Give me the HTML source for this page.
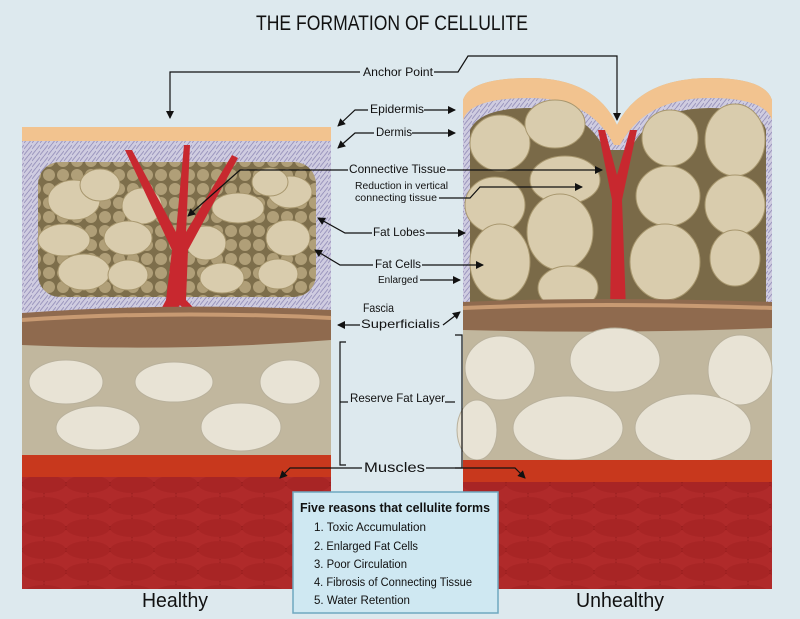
<!DOCTYPE html>
<html><head><meta charset="utf-8"><style>
html,body{margin:0;padding:0;background:#dde9ee;}
svg{display:block;font-family:"Liberation Sans",sans-serif;}
</style></head><body>
<svg width="800" height="619" viewBox="0 0 800 619" xmlns="http://www.w3.org/2000/svg">
<defs>
<marker id="a" markerWidth="8" markerHeight="8" refX="7" refY="4" orient="auto" markerUnits="userSpaceOnUse"><path d="M0,0 L8,4 L0,8z" fill="#111"/></marker>
<pattern id="mus" width="44" height="22" patternUnits="userSpaceOnUse"><rect width="44" height="22" fill="#8a1818"/><ellipse cx="22" cy="11" rx="22" ry="9" fill="#b02a2a"/><ellipse cx="0" cy="0" rx="22" ry="9" fill="#a82525"/><ellipse cx="44" cy="0" rx="22" ry="9" fill="#a82525"/><ellipse cx="0" cy="22" rx="22" ry="9" fill="#a82525"/><ellipse cx="44" cy="22" rx="22" ry="9" fill="#a82525"/></pattern>
<pattern id="der" width="8" height="6" patternUnits="userSpaceOnUse"><rect width="8" height="6" fill="#cfcce0"/><path d="M0,5 L4,0 M4,6 L8,1" stroke="#9a95bd" stroke-width="1"/></pattern>
<pattern id="small" width="14" height="14" patternUnits="userSpaceOnUse"><rect width="14" height="14" fill="#7d6e4b"/><circle cx="7" cy="7" r="6" fill="#b09f78"/></pattern>
</defs>
<rect width="800" height="619" fill="#dde9ee"/>
<text x="256" y="30" font-size="21" fill="#111" textLength="272" lengthAdjust="spacingAndGlyphs">THE FORMATION OF CELLULITE</text>

<!-- LEFT PANEL -->
<rect x="22" y="127" width="309" height="462" fill="#c1b79e"/>
<rect x="22" y="127" width="309" height="14" fill="#f2c38f"/>
<rect x="22" y="141" width="309" height="172" fill="url(#der)"/>
<rect x="38" y="162" width="278" height="135" rx="22" fill="url(#small)"/>
<g fill="#d9ccad" stroke="#a8976e" stroke-width="1">
<ellipse cx="74" cy="200" rx="26" ry="20"/><ellipse cx="100" cy="185" rx="20" ry="16"/><ellipse cx="142" cy="206" rx="20" ry="18"/>
<ellipse cx="64" cy="240" rx="26" ry="16"/><ellipse cx="128" cy="238" rx="24" ry="17"/><ellipse cx="84" cy="272" rx="26" ry="18"/><ellipse cx="128" cy="275" rx="20" ry="15"/>
<ellipse cx="238" cy="208" rx="26" ry="15"/><ellipse cx="290" cy="192" rx="22" ry="16"/><ellipse cx="206" cy="243" rx="20" ry="17"/><ellipse cx="288" cy="238" rx="22" ry="18"/><ellipse cx="222" cy="278" rx="22" ry="15"/><ellipse cx="278" cy="274" rx="20" ry="15"/><ellipse cx="270" cy="182" rx="18" ry="14"/>
</g>
<path d="M166,300 L172,250 L125,150 L132,150 L176,232 L184,145 L190,145 L186,232 L232,155 L238,158 L188,250 L186,300 L215,330 L205,332 L180,305 L160,332 L150,330z" fill="#c8282f"/>
<path d="M22,313 Q170,302 331,310 L331,340 Q180,352 22,345z" fill="#8f6a4e"/>
<path d="M22,320 Q170,310 331,318" stroke="#c89a72" stroke-width="4" fill="none"/>
<g fill="#e8e3d5" stroke="#b9b19c" stroke-width="1">
<ellipse cx="66" cy="382" rx="37" ry="22"/><ellipse cx="174" cy="382" rx="39" ry="20"/><ellipse cx="290" cy="382" rx="30" ry="22"/>
<ellipse cx="98" cy="428" rx="42" ry="22"/><ellipse cx="241" cy="427" rx="40" ry="24"/>
</g>
<rect x="22" y="455" width="309" height="22" fill="#c8381d"/>
<rect x="22" y="477" width="309" height="112" fill="url(#mus)"/>

<!-- RIGHT PANEL -->
<path d="M463,100 Q470,78 530,78 Q595,78 617,125 Q640,78 710,78 Q765,78 772,100 L772,589 L463,589z" fill="#c1b79e"/>
<path d="M463,100 Q470,78 530,78 Q595,78 617,125 Q640,78 710,78 Q765,78 772,100 L772,120 Q765,98 710,98 Q645,98 620,145 L614,145 Q590,98 530,98 Q470,98 463,120z" fill="#f2c38f"/>
<path d="M463,120 Q470,98 530,98 Q590,98 614,145 L620,145 Q645,98 710,98 Q765,98 772,120 L772,310 L463,310z" fill="url(#der)"/>
<path d="M470,130 Q480,108 530,108 Q585,108 605,150 L630,150 Q650,108 710,108 Q760,108 766,130 L766,302 L470,302z" fill="#7a6a48"/>
<g fill="#d9ccad" stroke="#a8976e" stroke-width="1">
<ellipse cx="500" cy="143" rx="30" ry="28"/><ellipse cx="555" cy="124" rx="30" ry="24"/><ellipse cx="565" cy="180" rx="35" ry="24"/>
<ellipse cx="495" cy="205" rx="30" ry="28"/><ellipse cx="560" cy="232" rx="33" ry="38"/><ellipse cx="500" cy="262" rx="30" ry="38"/><ellipse cx="568" cy="288" rx="30" ry="22"/>
<ellipse cx="670" cy="138" rx="28" ry="28"/><ellipse cx="735" cy="140" rx="30" ry="36"/><ellipse cx="668" cy="196" rx="32" ry="30"/><ellipse cx="735" cy="205" rx="30" ry="30"/>
<ellipse cx="665" cy="262" rx="35" ry="38"/><ellipse cx="735" cy="258" rx="25" ry="28"/>
</g>
<path d="M610,310 L612,200 L598,130 L605,130 L617,175 L630,130 L637,130 L622,200 L626,310z" fill="#c8282f"/>
<path d="M463,302 Q600,296 772,302 L772,328 Q620,334 463,330z" fill="#8f6a4e"/>
<path d="M463,308 Q600,302 772,308" stroke="#c89a72" stroke-width="4" fill="none"/>
<g fill="#e8e3d5" stroke="#b9b19c" stroke-width="1">
<ellipse cx="500" cy="368" rx="35" ry="32"/><ellipse cx="615" cy="360" rx="45" ry="32"/><ellipse cx="740" cy="370" rx="32" ry="35"/>
<ellipse cx="477" cy="430" rx="20" ry="30"/><ellipse cx="568" cy="428" rx="55" ry="32"/><ellipse cx="693" cy="428" rx="58" ry="34"/>
</g>
<rect x="463" y="460" width="309" height="22" fill="#c8381d"/>
<rect x="463" y="482" width="309" height="107" fill="url(#mus)"/>

<!-- LABELS -->
<g font-size="12" fill="#111" lengthAdjust="spacingAndGlyphs">
<text x="363" y="76" textLength="70" lengthAdjust="spacingAndGlyphs">Anchor Point</text>
<text x="370" y="113" textLength="54" lengthAdjust="spacingAndGlyphs">Epidermis</text>
<text x="376" y="136" textLength="36" lengthAdjust="spacingAndGlyphs">Dermis</text>
<text x="349" y="173" textLength="97" lengthAdjust="spacingAndGlyphs">Connective Tissue</text>
<text x="355" y="189" font-size="10" textLength="93" lengthAdjust="spacingAndGlyphs">Reduction in vertical</text>
<text x="355" y="201" font-size="10" textLength="82" lengthAdjust="spacingAndGlyphs">connecting tissue</text>
<text x="373" y="236" textLength="52" lengthAdjust="spacingAndGlyphs">Fat Lobes</text>
<text x="375" y="268" textLength="46" lengthAdjust="spacingAndGlyphs">Fat Cells</text>
<text x="378" y="283" font-size="10" textLength="40" lengthAdjust="spacingAndGlyphs">Enlarged</text>
<text x="363" y="312" textLength="31" lengthAdjust="spacingAndGlyphs">Fascia</text>
<text x="361" y="328" textLength="79" lengthAdjust="spacingAndGlyphs">Superficialis</text>
<text x="350" y="402" textLength="95" lengthAdjust="spacingAndGlyphs">Reserve Fat Layer</text>
<text x="364" y="472" font-size="14" textLength="61" lengthAdjust="spacingAndGlyphs">Muscles</text>
</g>
<g stroke="#111" stroke-width="1.2" fill="none">
<path d="M360,72 H170 V118" marker-end="url(#a)"/>
<path d="M434,72 H458 L468,56 H617 V120" marker-end="url(#a)"/>
<path d="M368,110 H355 L338,126" marker-end="url(#a)"/>
<path d="M424,110 H455" marker-end="url(#a)"/>
<path d="M374,133 H355 L338,148" marker-end="url(#a)"/>
<path d="M412,133 H455" marker-end="url(#a)"/>
<path d="M348,170 H240 L188,216" marker-end="url(#a)"/>
<path d="M447,170 H602" marker-end="url(#a)"/>
<path d="M439,198 H470 L480,187 H582" marker-end="url(#a)"/>
<path d="M372,233 H345 L318,218" marker-end="url(#a)"/>
<path d="M426,233 H465" marker-end="url(#a)"/>
<path d="M373,265 H340 L315,250" marker-end="url(#a)"/>
<path d="M422,265 H483" marker-end="url(#a)"/>
<path d="M420,280 H460" marker-end="url(#a)"/>
<path d="M360,325 H338" marker-end="url(#a)"/>
<path d="M443,325 L460,312" marker-end="url(#a)"/>
<path d="M346,342 H340 V465 H346"/>
<path d="M348,402 H340"/>
<path d="M445,402 H455"/>
<path d="M455,335 H462 V468 H455"/>
<path d="M362,468 H290 L280,478" marker-end="url(#a)"/>
<path d="M426,468 H515 L525,478" marker-end="url(#a)"/>
</g>

<!-- BOX -->
<rect x="293" y="492" width="205" height="121" fill="#cfe8f2" stroke="#6fa8c0" stroke-width="1.5"/>
<g fill="#111">
<text x="300" y="512" font-size="12.5" font-weight="bold" textLength="190" lengthAdjust="spacingAndGlyphs">Five reasons that cellulite forms</text>
<text x="314" y="531" font-size="11.5" textLength="112" lengthAdjust="spacingAndGlyphs">1.  Toxic Accumulation</text>
<text x="314" y="550" font-size="11.5" textLength="104" lengthAdjust="spacingAndGlyphs">2. Enlarged Fat Cells</text>
<text x="314" y="568" font-size="11.5" textLength="93" lengthAdjust="spacingAndGlyphs">3. Poor Circulation</text>
<text x="314" y="586" font-size="11.5" textLength="158" lengthAdjust="spacingAndGlyphs">4. Fibrosis of Connecting Tissue</text>
<text x="314" y="604" font-size="11.5" textLength="96" lengthAdjust="spacingAndGlyphs">5. Water Retention</text>
</g>
<text x="142" y="607" font-size="20" fill="#111" textLength="66" lengthAdjust="spacingAndGlyphs">Healthy</text>
<text x="576" y="607" font-size="20" fill="#111" textLength="88" lengthAdjust="spacingAndGlyphs">Unhealthy</text>
</svg>
</body></html>
